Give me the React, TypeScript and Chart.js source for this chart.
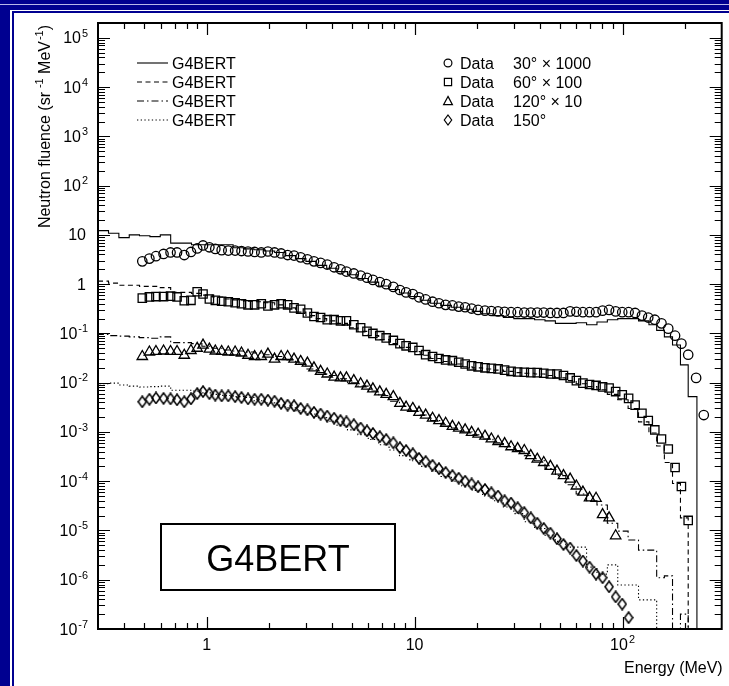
import React, { useEffect, useRef } from 'react';
import { Chart, registerables } from 'chart.js';

Chart.register(...registerables);

// ---------------- data ----------------
const X_MIN = 0.3;
const X_MAX = 300;
const Y_MIN = 1e-7;
const Y_MAX = 2e5;

const xTickValues = [1, 10, 100];
const xTickLabels = ['1', '10', '10^2'];
const yTickValues = [1e5, 1e4, 1e3, 1e2, 10, 1, 0.1, 0.01, 1e-3, 1e-4, 1e-5, 1e-6, 1e-7];
const yTickLabels = ['10^5', '10^4', '10^3', '10^2', '10', '1', '10^-1', '10^-2', '10^-3', '10^-4', '10^-5', '10^-6', '10^-7'];

const modelLegendLabels = ['G4BERT', 'G4BERT', 'G4BERT', 'G4BERT'];
const dataLegendAngles = ['30° × 1000', '60° × 100', '120° × 10', '150°'];

// histogram bin edges (MeV)
const histEdges = [0.3, 0.337, 0.378, 0.424, 0.475, 0.533, 0.598, 0.671, 0.753, 0.845, 0.948, 1.064, 1.194, 1.34, 1.503, 1.687, 1.892, 2.123, 2.382, 2.673, 3.0, 3.366, 3.777, 4.238, 4.755, 5.335, 5.986, 6.717, 7.536, 8.456, 9.487, 10.64, 11.94, 13.4, 15.03, 16.87, 18.93, 21.23, 23.82, 26.73, 30.0, 33.66, 37.77, 42.38, 47.55, 53.35, 59.86, 67.17, 75.36, 84.56, 94.87, 106.4, 119.4, 134, 146, 159, 174, 190, 207, 228, 248];

// G4BERT histograms (bin contents)
const g4bert30 = [10.5, 12.2, 10.8, 8.8, 10, 9.6, 9.2, 10, 6.8, 6.8, 6.3, 6.3, 6.3, 6.3, 5.5, 5.2, 5.0, 4.7, 4.4, 3.8, 3.3, 2.9, 2.4, 2.1, 1.8, 1.55, 1.3, 1.1, 0.92, 0.78, 0.66, 0.56, 0.47, 0.41, 0.37, 0.34, 0.31, 0.28, 0.25, 0.23, 0.21, 0.2, 0.2, 0.19, 0.18, 0.16, 0.16, 0.165, 0.15, 0.17, 0.19, 0.2, 0.2, 0.18, 0.15, 0.115, 0.085, 0.058, 0.023, 0.0052];
const g4bert60 = [1.15, 1.15, 1.05, 0.95, 0.95, 0.9, 0.9, 0.85, 0.68, 0.68, 0.65, 0.6, 0.55, 0.5, 0.48, 0.45, 0.44, 0.42, 0.38, 0.33, 0.27, 0.23, 0.2, 0.18, 0.16, 0.13, 0.11, 0.09, 0.075, 0.062, 0.052, 0.043, 0.036, 0.031, 0.027, 0.024, 0.021, 0.02, 0.019, 0.018, 0.017, 0.016, 0.0155, 0.015, 0.014, 0.0125, 0.011, 0.0095, 0.0083, 0.0072, 0.0058, 0.0045, 0.003, 0.0016, 0.00095, 0.00052, 0.00024, 0.00009, 0.000018];
const g4bert120 = [0.1, 0.095, 0.09, 0.088, 0.085, 0.082, 0.08, 0.085, 0.065, 0.065, 0.062, 0.055, 0.05, 0.046, 0.044, 0.042, 0.04, 0.037, 0.034, 0.029, 0.025, 0.019, 0.016, 0.014, 0.012, 0.01, 0.0085, 0.0068, 0.0055, 0.0042, 0.0033, 0.0027, 0.0022, 0.0017, 0.0014, 0.0012, 0.001, 0.00087, 0.00072, 0.0006, 0.0005, 0.00042, 0.00033, 0.00026, 0.00018, 0.00013, 0.000085, 0.000055, 0.00004, 0.000033, 0.000014, 0.0000097, 0.0000064, 0.000004, 0.000004, 0.0000011, 0.0000012, 0, 0.0000002];
const g4bert150 = [0.0105, 0.0095, 0.0098, 0.009, 0.0085, 0.0082, 0.0083, 0.0085, 0.007, 0.007, 0.0068, 0.0062, 0.0058, 0.0055, 0.0052, 0.005, 0.0043, 0.0039, 0.0035, 0.0031, 0.0027, 0.0023, 0.00195, 0.00165, 0.00135, 0.0011, 0.00088, 0.0007, 0.00055, 0.00043, 0.00033, 0.00026, 0.0002, 0.00016, 0.000125, 0.0001, 0.00008, 0.000065, 0.00005, 0.00004, 0.00003, 0.000022, 0.000015, 0.000011, 0.000008, 0.000006, 0.0000046, 0.0000046, 0.0000018, 0.0000013, 0.000002, 0.00000078, 0.00000078, 0.00000039, 0.00000039];

// measured data energies (MeV)
const dataEnergies = [0.49, 0.53, 0.57, 0.62, 0.67, 0.72, 0.78, 0.84, 0.9, 0.96, 1.03, 1.1, 1.18, 1.27, 1.37, 1.47, 1.58, 1.7, 1.83, 1.97, 2.12, 2.28, 2.45, 2.63, 2.83, 3.05, 3.28, 3.53, 3.8, 4.1, 4.4, 4.7, 5.1, 5.5, 5.9, 6.3, 6.8, 7.3, 7.9, 8.5, 9.1, 9.8, 10.5, 11.3, 12.2, 13.1, 14.1, 15.2, 16.3, 17.5, 18.8, 20.2, 21.8, 23.4, 25.2, 27.1, 29.1, 31.3, 33.7, 36.2, 38.9, 41.8, 45, 48.4, 52, 56, 60, 64.5, 69.4, 74.6, 80.2, 86.2, 92.7, 99.7, 107, 115, 124, 133, 143, 154, 166, 179, 192, 207, 226, 246];

const data30 = [2.9, 3.3, 3.7, 4.1, 4.4, 4.4, 3.9, 4.5, 5.3, 6.1, 5.6, 5.2, 4.9, 4.8, 4.8, 4.7, 4.6, 4.5, 4.4, 4.6, 4.4, 4.2, 3.9, 3.8, 3.5, 3.2, 2.9, 2.7, 2.5, 2.2, 2.0, 1.8, 1.65, 1.5, 1.35, 1.22, 1.1, 1.0, 0.88, 0.76, 0.68, 0.63, 0.54, 0.49, 0.44, 0.41, 0.38, 0.37, 0.35, 0.34, 0.32, 0.30, 0.29, 0.285, 0.28, 0.275, 0.27, 0.27, 0.265, 0.265, 0.265, 0.265, 0.26, 0.26, 0.26, 0.28, 0.275, 0.27, 0.27, 0.27, 0.29, 0.3, 0.28, 0.27, 0.27, 0.26, 0.23, 0.21, 0.19, 0.16, 0.125, 0.09, 0.062, 0.037, 0.0125, 0.0022];
const data60 = [0.52, 0.55, 0.56, 0.56, 0.57, 0.55, 0.46, 0.47, 0.7, 0.63, 0.5, 0.47, 0.45, 0.44, 0.42, 0.4, 0.38, 0.38, 0.4, 0.36, 0.38, 0.4, 0.38, 0.33, 0.31, 0.26, 0.22, 0.21, 0.19, 0.19, 0.18, 0.18, 0.15, 0.13, 0.11, 0.1, 0.09, 0.081, 0.072, 0.062, 0.056, 0.052, 0.045, 0.037, 0.034, 0.031, 0.029, 0.028, 0.026, 0.024, 0.022, 0.021, 0.02, 0.0195, 0.019, 0.018, 0.017, 0.0165, 0.0163, 0.016, 0.016, 0.0155, 0.015, 0.015, 0.014, 0.0125, 0.011, 0.0098, 0.0092, 0.0088, 0.0082, 0.0078, 0.0066, 0.0057, 0.0048, 0.0035, 0.0024, 0.0017, 0.0011, 0.00072, 0.00045, 0.00019, 0.000078, 0.000016];
const data120 = [0.034, 0.042, 0.043, 0.044, 0.043, 0.043, 0.036, 0.045, 0.05, 0.058, 0.048, 0.044, 0.043, 0.042, 0.042, 0.04, 0.036, 0.034, 0.034, 0.038, 0.03, 0.034, 0.034, 0.03, 0.027, 0.025, 0.02, 0.017, 0.015, 0.013, 0.0125, 0.0125, 0.011, 0.0095, 0.0085, 0.0075, 0.0065, 0.0058, 0.0052, 0.0038, 0.0032, 0.003, 0.0025, 0.0022, 0.0019, 0.0017, 0.0015, 0.0013, 0.0012, 0.0011, 0.00098, 0.0009, 0.00082, 0.00072, 0.00064, 0.00058, 0.0005, 0.00046, 0.00042, 0.00033, 0.00028, 0.00024, 0.0002, 0.00016, 0.00013, 0.00011, 0.00008, 0.00006, 0.000046, 0.000045, 0.000021, 0.000018, 0.0000078];
const data150 = [0.0041, 0.0046, 0.0049, 0.0048, 0.0047, 0.0045, 0.0041, 0.0047, 0.006, 0.0066, 0.006, 0.0056, 0.0054, 0.0054, 0.0052, 0.005, 0.0047, 0.0046, 0.0046, 0.0044, 0.0042, 0.0038, 0.0035, 0.0034, 0.003, 0.0028, 0.0025, 0.0023, 0.0021, 0.0019, 0.0017, 0.0016, 0.0014, 0.0012, 0.00105, 0.00093, 0.0008, 0.0007, 0.0006, 0.00048, 0.00042, 0.00036, 0.00029, 0.00025, 0.00021, 0.00018, 0.00015, 0.00013, 0.000115, 0.0001, 0.000088, 0.000077, 0.000068, 0.000058, 0.00005, 0.00004, 0.000036, 0.000029, 0.000023, 0.000018, 0.000014, 0.000011, 0.0000088, 0.0000068, 0.0000052, 0.0000044, 0.0000031, 0.0000024, 0.0000018, 0.0000013, 0.0000011, 0.00000072, 0.00000045, 0.00000032, 0.00000017];

// ---------------- styling ----------------
const FF = '"Liberation Sans", Arial, Helvetica, sans-serif';
const INK = '#000';
const NAVY = '#000090';
const FLOOR = 1e-10;

const DASH_SOLID: number[] = [];
const DASH_DASHED = [5, 3.5];
const DASH_DASHDOT = [7, 3, 1.5, 3];
const DASH_DOTTED = [1.3, 2.4];

type Part = { t: string; sup?: boolean };

function labelParts(label: string): Part[] {
  const [base, exp] = label.split('^');
  const parts: Part[] = [{ t: base }];
  if (exp !== undefined) parts.push({ t: exp, sup: true });
  return parts;
}

function drawParts(ctx: CanvasRenderingContext2D, parts: Part[], x: number, y: number, align: string, size: number) {
  const supSize = size * 0.68;
  const widths = parts.map((p) => {
    ctx.font = `${p.sup ? supSize : size}px ${FF}`;
    return ctx.measureText(p.t).width + (p.sup ? 1 : 0);
  });
  const total = widths.reduce((a, b) => a + b, 0);
  let cx = align === 'right' ? x - total : align === 'center' ? x - total / 2 : x;
  ctx.textAlign = 'left';
  parts.forEach((p, i) => {
    ctx.font = `${p.sup ? supSize : size}px ${FF}`;
    ctx.fillText(p.t, cx + (p.sup ? 1 : 0), p.sup ? y - size * 0.42 : y);
    cx += widths[i];
  });
}

function histPoints(values: number[]) {
  const pts = values.map((v, i) => ({ x: histEdges[i], y: v > 0 ? v : FLOOR }));
  pts.push({ x: histEdges[values.length], y: FLOOR });
  return pts;
}

function dataPoints(values: number[]) {
  return values.map((v, i) => ({ x: dataEnergies[i], y: v }));
}

function makeDiamond(w: number, h: number, lw: number) {
  const c = document.createElement('canvas');
  c.width = w;
  c.height = h;
  const g = c.getContext('2d')!;
  g.strokeStyle = INK;
  g.lineWidth = lw;
  g.lineJoin = 'miter';
  const m = lw / 2 + 0.2;
  g.beginPath();
  g.moveTo(w / 2, m);
  g.lineTo(w - m, h / 2);
  g.lineTo(w / 2, h - m);
  g.lineTo(m, h / 2);
  g.closePath();
  g.stroke();
  return c;
}

function legendMarker(ctx: CanvasRenderingContext2D, kind: string, x: number, y: number) {
  ctx.beginPath();
  if (kind === 'circle') {
    ctx.arc(x, y, 3.9, 0, Math.PI * 2);
  } else if (kind === 'rect') {
    ctx.rect(x - 3.6, y - 3.6, 7.2, 7.2);
  } else if (kind === 'triangle') {
    ctx.moveTo(x, y - 4.6);
    ctx.lineTo(x + 4.4, y + 3.6);
    ctx.lineTo(x - 4.4, y + 3.6);
    ctx.closePath();
  } else {
    ctx.moveTo(x, y - 5);
    ctx.lineTo(x + 3.7, y);
    ctx.lineTo(x, y + 5);
    ctx.lineTo(x - 3.7, y);
    ctx.closePath();
  }
  ctx.stroke();
}

const decorPlugin = {
  id: 'decor',
  afterDraw(chart: any) {
    const ctx: CanvasRenderingContext2D = chart.ctx;
    const a = chart.chartArea;
    const xs = chart.scales.x;
    const ys = chart.scales.y;
    ctx.save();
    ctx.strokeStyle = INK;
    ctx.fillStyle = INK;
    ctx.setLineDash([]);

    // tick marks (inside the frame)
    ctx.lineWidth = 1.2;
    ctx.beginPath();
    for (let d = -1; d <= 2; d++) {
      for (let k = 1; k <= 9; k++) {
        const v = k * Math.pow(10, d);
        if (v <= X_MIN * 1.0001 || v >= X_MAX * 0.9999) continue;
        const px = Math.round(xs.getPixelForValue(v)) + 0.5;
        const len = k === 1 ? 12 : 6;
        ctx.moveTo(px, a.bottom);
        ctx.lineTo(px, a.bottom - len);
        ctx.moveTo(px, a.top);
        ctx.lineTo(px, a.top + len);
      }
    }
    for (let d = -7; d <= 5; d++) {
      for (let k = 1; k <= 9; k++) {
        const v = k * Math.pow(10, d);
        if (v > Y_MAX * 0.9999) continue;
        const py = Math.round(ys.getPixelForValue(v)) + 0.5;
        const len = k === 1 ? 12 : 7;
        ctx.moveTo(a.left, py);
        ctx.lineTo(a.left + len, py);
        ctx.moveTo(a.right, py);
        ctx.lineTo(a.right - len, py);
      }
    }
    ctx.stroke();

    // frame
    ctx.lineWidth = 2;
    ctx.strokeRect(a.left, a.top, a.right - a.left, a.bottom - a.top);

    // tick labels
    ctx.textBaseline = 'alphabetic';
    yTickValues.forEach((v, i) => {
      const py = ys.getPixelForValue(v);
      const lab = yTickLabels[i];
      const right = lab.includes('^') ? 88 : 86;
      drawParts(ctx, labelParts(lab), right, py + 5.5, 'right', 16);
    });
    xTickValues.forEach((v, i) => {
      const px = xs.getPixelForValue(v);
      drawParts(ctx, labelParts(xTickLabels[i]), px, a.bottom + 21, 'center', 16);
    });

    // axis titles
    drawParts(ctx, [{ t: 'Energy (MeV)' }], a.right + 1, a.bottom + 44, 'right', 16);
    ctx.save();
    ctx.translate(50, a.top + 2);
    ctx.rotate(-Math.PI / 2);
    drawParts(
      ctx,
      [{ t: 'Neutron fluence (sr' }, { t: ' -1', sup: true }, { t: ' MeV' }, { t: '-1', sup: true }, { t: ')' }],
      0,
      0,
      'right',
      16,
    );
    ctx.restore();

    // legend
    const rows = [63, 82, 101, 120];
    const dashes = [DASH_SOLID, DASH_DASHED, DASH_DASHDOT, DASH_DOTTED];
    const kinds = ['circle', 'rect', 'triangle', 'diamond'];
    rows.forEach((ry, i) => {
      ctx.lineWidth = 1.1;
      ctx.setLineDash(dashes[i]);
      ctx.beginPath();
      ctx.moveTo(137, ry);
      ctx.lineTo(168, ry);
      ctx.stroke();
      ctx.setLineDash([]);
      drawParts(ctx, [{ t: modelLegendLabels[i] }], 172, ry + 5.7, 'left', 16);
      ctx.lineWidth = 1.2;
      legendMarker(ctx, kinds[i], 448, ry);
      drawParts(ctx, [{ t: 'Data' }], 460, ry + 5.7, 'left', 16);
      drawParts(ctx, [{ t: dataLegendAngles[i] }], 513, ry + 5.7, 'left', 16);
    });

    // model label box
    ctx.lineWidth = 2;
    ctx.strokeRect(161, 524, 234, 66);
    drawParts(ctx, [{ t: 'G4BERT' }], 278, 571, 'center', 36);

    ctx.restore();
  },
};

export default function App() {
  const canvasRef = useRef<HTMLCanvasElement | null>(null);

  useEffect(() => {
    const canvas = canvasRef.current;
    if (!canvas) return;
    const diamond = makeDiamond(10, 13, 1.5);

    const histStyle = (values: number[], dash: number[]) => ({
      type: 'line' as const,
      data: histPoints(values),
      showLine: true,
      stepped: 'after' as const,
      borderColor: INK,
      borderWidth: 1.1,
      borderDash: dash,
      pointRadius: 0,
      pointHoverRadius: 0,
      fill: false,
    });
    const markerStyle = (values: number[], style: any, radius: number) => ({
      type: 'line' as const,
      data: dataPoints(values),
      showLine: false,
      pointStyle: style,
      pointRadius: radius,
      pointHoverRadius: radius,
      pointBorderColor: INK,
      pointBackgroundColor: 'rgba(0,0,0,0)',
      pointBorderWidth: 1.3,
      borderColor: INK,
      backgroundColor: 'rgba(0,0,0,0)',
    });

    const chart = new Chart(canvas, {
      type: 'line',
      data: {
        datasets: [
          histStyle(g4bert30, DASH_SOLID),
          histStyle(g4bert60, DASH_DASHED),
          histStyle(g4bert120, DASH_DASHDOT),
          histStyle(g4bert150, DASH_DOTTED),
          markerStyle(data30, 'circle', 4.7),
          markerStyle(data60, 'rect', 5.9),
          markerStyle(data120, 'triangle', 6),
          markerStyle(data150, diamond, 5),
        ] as any,
      },
      options: {
        responsive: false,
        devicePixelRatio: 1,
        animation: false,
        events: [],
        layout: { padding: { left: 98, top: 23, right: 4, bottom: 57 } },
        scales: {
          x: { type: 'logarithmic', min: X_MIN, max: X_MAX, display: false },
          y: { type: 'logarithmic', min: Y_MIN, max: Y_MAX, display: false },
        },
        plugins: { legend: { display: false }, tooltip: { enabled: false }, title: { display: false } },
      } as any,
      plugins: [decorPlugin as any],
    });
    return () => chart.destroy();
  }, []);

  return (
    <div style={{ position: 'fixed', left: 0, top: 0, width: 729, height: 686, background: NAVY, overflow: 'hidden' }}>
      <div style={{ position: 'absolute', left: 0, right: 0, top: 4, height: 1, background: '#b8b8e8' }} />
      <div style={{ position: 'absolute', left: 10, top: 10, right: 0, bottom: 0, background: '#ffffff' }} />
      <div style={{ position: 'absolute', left: 12, top: 11, right: 0, height: 2, background: NAVY }} />
      <div style={{ position: 'absolute', left: 12, top: 11, width: 2, bottom: 0, background: NAVY }} />
      <canvas ref={canvasRef} width={729} height={686} style={{ position: 'absolute', left: 0, top: 0 }} />
    </div>
  );
}
